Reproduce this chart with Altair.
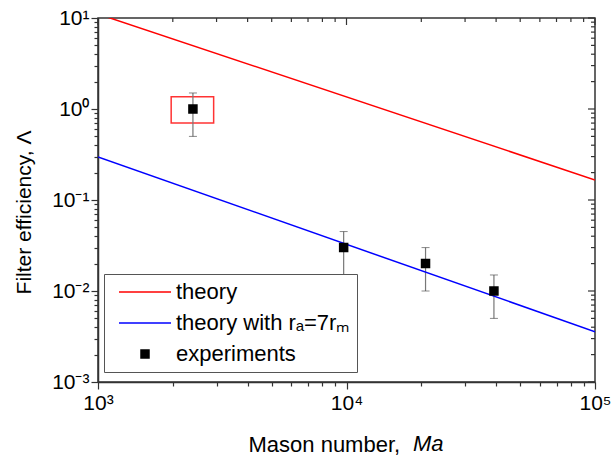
import altair as alt
import pandas as pd

# ---------------- data ----------------
theory_ma = [1000, 100000]
theory_lambda = [11.07, 0.166]
theory7_ma = [1000, 100000]
theory7_lambda = [0.297, 0.00357]

exp_ma = [2410, 9740, 20800, 39200]
exp_lambda = [1.0, 0.030, 0.020, 0.010]
exp_lo = [0.5, 0.015, 0.010, 0.005]
exp_hi = [1.5, 0.045, 0.030, 0.015]

box_ma = [1970, 2920]
box_lambda = [0.70, 1.36]

series_names = ["theory", "theory with rₐ=7rₘ", "experiments"]
series_colors = ["#ff0000", "#0000ff", "#000000"]

x_major = [1e3, 1e4, 1e5]
x_major_labels = ["10³", "10⁴", "10⁵"]
x_minor = [2e3, 3e3, 4e3, 5e3, 6e3, 7e3, 8e3, 9e3,
           2e4, 3e4, 4e4, 5e4, 6e4, 7e4, 8e4, 9e4]
y_major = [1e-3, 1e-2, 1e-1, 1e0, 1e1]
y_major_labels = ["10⁻³", "10⁻²", "10⁻¹", "10⁰", "10¹"]
y_minor = [2e-3, 3e-3, 4e-3, 5e-3, 6e-3, 7e-3, 8e-3, 9e-3,
           2e-2, 3e-2, 4e-2, 5e-2, 6e-2, 7e-2, 8e-2, 9e-2,
           2e-1, 3e-1, 4e-1, 5e-1, 6e-1, 7e-1, 8e-1, 9e-1,
           2.0, 3.0, 4.0, 5.0, 6.0, 7.0, 8.0, 9.0]

x_title = "Mason number,"
x_title_italic = "Ma"
y_title = "Filter efficiency, Λ"

# ---------------- tables ----------------
df_lines = pd.DataFrame({
    "Ma": theory_ma + theory7_ma,
    "Lambda": theory_lambda + theory7_lambda,
    "series": [series_names[0]] * len(theory_ma) + [series_names[1]] * len(theory7_ma),
})
df_exp = pd.DataFrame({
    "Ma": exp_ma, "Lambda": exp_lambda, "lo": exp_lo, "hi": exp_hi,
    "series": [series_names[2]] * len(exp_ma),
})
df_box = pd.DataFrame({"Ma": [box_ma[0]], "Ma2": [box_ma[1]],
                       "Lambda": [box_lambda[0]], "Lambda2": [box_lambda[1]]})

W, H = 497, 364
FONT = "Liberation Sans"
AX = "#333333"


def label_expr(values, labels):
    expr = "''"
    for v, l in zip(reversed(values), reversed(labels)):
        expr = f"abs(datum.value - {v!r}) < {v * 1e-6!r} ? '{l}' : ({expr})"
    return expr


major_test = "abs(log(datum.value)/LN10 - round(log(datum.value)/LN10)) < 0.001"

xscale = alt.Scale(type="log", domain=[x_major[0], x_major[-1]], nice=False)
yscale = alt.Scale(type="log", domain=[y_major[0], y_major[-1]], nice=False)

xaxis = alt.Axis(
    values=x_major + x_minor,
    labelExpr=label_expr(x_major, x_major_labels),
    tickSize={"condition": {"test": major_test, "value": 7}, "value": 4},
    labelFlush=False, labelOverlap=False, labelPadding=3,
    title=x_title, titleAlign="left", titleAnchor="start", titleX=150, titleY=69,
    titleBaseline="alphabetic", titleFontSize=22,
)
yaxis = alt.Axis(
    values=y_major + y_minor,
    labelExpr=label_expr(y_major, y_major_labels),
    tickSize={"condition": {"test": major_test, "value": 7}, "value": 4},
    labelFlush=False, labelOverlap=False, labelPadding=2,
    title=y_title, titleX=-68, titleY=194, titleBaseline="alphabetic", titleAngle=270,
)

X = lambda f: alt.X(f, scale=xscale, axis=xaxis)
Y = lambda f: alt.Y(f, scale=yscale, axis=yaxis)

# legend symbols: short "size" so rows stay compact; line symbols drawn as a long path
LINE_SYM = "M-4,0H4"
color_scale = alt.Scale(domain=series_names, range=series_colors)
legend_def = alt.Legend(
    title=None, orient="none", legendX=6, legendY=256,
    padding=7, symbolOffset=23, strokeColor="#555555", fillColor="white",
    labelFont=FONT, labelFontSize=22, labelColor="black", rowPadding=9,
    symbolStrokeWidth=1.5, labelOffset=20, labelLimit=400, cornerRadius=0,
)

box = alt.Chart(df_box).mark_rect(fillOpacity=0, stroke="#ff3333", strokeWidth=1.5).encode(
    x=X("Ma:Q"), x2="Ma2:Q", y=Y("Lambda:Q"), y2="Lambda2:Q",
)

err = alt.Chart(df_exp).mark_rule(color="#777777", strokeWidth=1.2).encode(
    x=X("Ma:Q"), y=Y("lo:Q"), y2="hi:Q",
)
cap_lo = alt.Chart(df_exp).mark_tick(orient="horizontal", size=8, thickness=1, color="#555555").encode(
    x=X("Ma:Q"), y=Y("lo:Q"),
)
cap_hi = alt.Chart(df_exp).mark_tick(orient="horizontal", size=8, thickness=1, color="#555555").encode(
    x=X("Ma:Q"), y=Y("hi:Q"),
)

lines = alt.Chart(df_lines).mark_line(clip=True, strokeWidth=1.5).encode(
    x=X("Ma:Q"), y=Y("Lambda:Q"),
    color=alt.Color("series:N", scale=color_scale, legend=legend_def),
)

points = alt.Chart(df_exp).mark_point(filled=True, opacity=1, strokeWidth=1.5).encode(
    x=X("Ma:Q"), y=Y("Lambda:Q"),
    color=alt.Color("series:N", scale=color_scale, legend=legend_def),
    stroke=alt.Stroke("series:N", scale=alt.Scale(domain=series_names, range=series_colors), legend=legend_def),
    shape=alt.Shape("series:N", scale=alt.Scale(domain=series_names, range=[LINE_SYM, LINE_SYM, "square"]), legend=legend_def),
    size=alt.Size("series:N", scale=alt.Scale(type="ordinal", domain=series_names, range=[169, 169, 64]), legend=legend_def),
)

# mirror ticks on top and right borders (inward)
df_xmaj = pd.DataFrame({"Ma": x_major})
df_xmin = pd.DataFrame({"Ma": x_minor})
df_ymaj = pd.DataFrame({"Lambda": y_major})
df_ymin = pd.DataFrame({"Lambda": y_minor})

top_maj = alt.Chart(df_xmaj).mark_rule(color=AX, strokeWidth=1.2).encode(
    x=X("Ma:Q"), y=alt.value(0), y2=alt.value(7))
top_min = alt.Chart(df_xmin).mark_rule(color=AX, strokeWidth=1.2).encode(
    x=X("Ma:Q"), y=alt.value(0), y2=alt.value(4))
right_maj = alt.Chart(df_ymaj).mark_rule(color=AX, strokeWidth=1.2).encode(
    y=Y("Lambda:Q"), x=alt.value(W), x2=alt.value(W - 7))
right_min = alt.Chart(df_ymin).mark_rule(color=AX, strokeWidth=1.2).encode(
    y=Y("Lambda:Q"), x=alt.value(W), x2=alt.value(W - 4))

ma_text = alt.Chart(pd.DataFrame({"t": [x_title_italic]})).mark_text(
    font=FONT, fontSize=22, fontStyle="italic", align="left", baseline="alphabetic", color="black"
).encode(x=alt.value(315), y=alt.value(H + 69), text="t:N")

chart = alt.layer(
    box, err, cap_lo, cap_hi, lines, points, top_maj, top_min, right_maj, right_min, ma_text
).properties(
    width=W, height=H,
    autosize=alt.AutoSizeParams(type="none"),
    padding={"left": 98, "top": 18, "right": 16, "bottom": 79},
).configure_view(
    stroke=AX, strokeWidth=1.5
).configure_axis(
    grid=False, domainColor=AX, domainWidth=1.5, tickColor=AX, tickWidth=1.2,
    labelFont=FONT, labelFontSize=21, labelColor="black",
    titleFont=FONT, titleFontSize=21, titleFontWeight="normal", titleColor="black",
)

chart.save("out.html", embed_options={"renderer": "svg", "actions": False})
